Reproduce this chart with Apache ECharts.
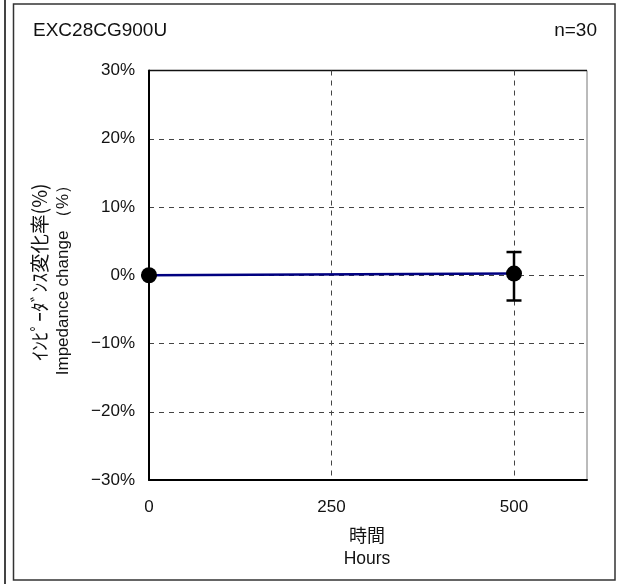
<!DOCTYPE html>
<html>
<head>
<meta charset="utf-8">
<script src="https://cdn.jsdelivr.net/npm/echarts@6/dist/echarts.min.js"></script>
<style>
html,body{margin:0;padding:0;background:#fff;}
#c{width:619px;height:584px;}
</style>
</head>
<body>
<div id="c"></div>
<script>
var hours = [0, 500];
var meanChange = [0, 0.25];
var errLow = [0, -3.7];
var errHigh = [0, 3.4];
var xTicks = [0, 250, 500];
var yTicks = [-30, -20, -10, 0, 10, 20, 30];
var titleText = 'EXC28CG900U';
var nText = 'n=30';

var latin = '"Liberation Sans", Arial, sans-serif';
var cjk = '"Noto Sans CJK JP", "Liberation Sans", sans-serif';

var lineData = hours.map(function (h, i) { return [h, meanChange[i]]; });
var errData = hours.map(function (h, i) { return [h, errLow[i], errHigh[i]]; });

var chart = echarts.init(document.getElementById('c'), null, {renderer: 'canvas'});
chart.setOption({
  animation: false,
  backgroundColor: '#fff',
  grid: {left: 149, top: 70.5, right: 32, bottom: 104, show: true, borderColor: '#777', borderWidth: 1},
  xAxis: {
    type: 'value', min: 0, max: 600, interval: 250,
    axisLine: {show: true, onZero: false, lineStyle: {color: '#000', width: 2}},
    axisTick: {show: false},
    axisLabel: {
      color: '#111', fontSize: 17, fontFamily: latin, margin: 19, showMaxLabel: false,
      formatter: function (v) { return xTicks.indexOf(v) >= 0 ? String(v) : ''; }
    },
    splitLine: {show: true, showMinLine: false, showMaxLine: false, lineStyle: {color: '#444', type: [5, 5], width: 1}}
  },
  yAxis: {
    type: 'value', min: -30, max: 30, interval: 10,
    axisLine: {show: true, lineStyle: {color: '#000', width: 2}},
    axisTick: {show: false},
    axisLabel: {
      color: '#111', fontSize: 17, fontFamily: latin, margin: 14,
      formatter: function (v) {
        if (yTicks.indexOf(v) < 0) return '';
        return (v < 0 ? '\u2212' + Math.abs(v) : String(v)) + '%';
      }
    },
    splitLine: {show: true, showMinLine: false, showMaxLine: false, lineStyle: {color: '#444', type: [5, 5], width: 1}}
  },
  graphic: [
    {type: 'line', shape: {x1: 5, y1: 0, x2: 5, y2: 584}, style: {stroke: '#444', lineWidth: 2}, silent: true},
    {type: 'rect', shape: {x: 13.5, y: 4, width: 601.5, height: 576}, style: {fill: null, stroke: '#333', lineWidth: 1.5}, silent: true},
    {type: 'line', shape: {x1: 149, y1: 70.5, x2: 587, y2: 70.5}, style: {stroke: '#111', lineWidth: 1.5}, silent: true},
    {type: 'text', x: 33, y: 31, style: {text: titleText, font: '19px ' + latin, fill: '#111', align: 'left', verticalAlign: 'middle'}},
    {type: 'text', x: 597, y: 31, style: {text: nText, font: '19px ' + latin, fill: '#111', align: 'right', verticalAlign: 'middle'}},
    {type: 'text', x: 367, y: 535, style: {text: '時間', font: '18px ' + cjk, fill: '#111', align: 'center', verticalAlign: 'middle'}},
    {type: 'text', x: 367, y: 559, style: {text: 'Hours', font: '17.5px ' + latin, fill: '#111', align: 'center', verticalAlign: 'middle'}},
    {type: 'text', x: 40, y: 272, rotation: Math.PI / 2, style: {text: 'ｲﾝﾋﾟｰﾀﾞﾝｽ変化率(%)', font: '19.5px ' + cjk, fill: '#111', align: 'center', verticalAlign: 'middle'}},
    {type: 'text', x: 63, y: 276, rotation: Math.PI / 2, style: {text: 'Impedance change （%）', font: '17px ' + latin, fill: '#111', align: 'center', verticalAlign: 'middle'}}
  ],
  series: [
    {
      type: 'custom', z: 3, data: errData, silent: true,
      renderItem: function (params, api) {
        var x = api.value(0);
        var lo = api.coord([x, api.value(1)]);
        var hi = api.coord([x, api.value(2)]);
        var cap = 7.5;
        var st = {stroke: '#000', lineWidth: 2.5, fill: null};
        return {type: 'group', children: [
          {type: 'line', shape: {x1: lo[0], y1: lo[1], x2: hi[0], y2: hi[1]}, style: st},
          {type: 'line', shape: {x1: lo[0] - cap, y1: lo[1], x2: lo[0] + cap, y2: lo[1]}, style: st},
          {type: 'line', shape: {x1: hi[0] - cap, y1: hi[1], x2: hi[0] + cap, y2: hi[1]}, style: st}
        ]};
      }
    },
    {
      type: 'line', z: 4, data: lineData, symbol: 'circle', symbolSize: 16,
      lineStyle: {color: '#000080', width: 2.5},
      itemStyle: {color: '#000', borderWidth: 0},
      silent: true
    }
  ]
});
</script>
</body>
</html>
